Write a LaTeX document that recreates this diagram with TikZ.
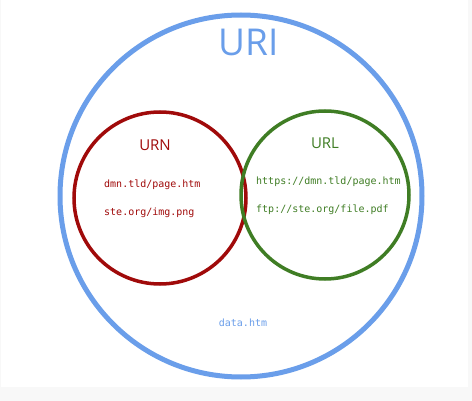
\documentclass[tikz,border=0pt]{standalone}
\usepackage{fontspec}
\setmainfont{Open Sans}
\setmonofont{DejaVu Sans Mono}
\usetikzlibrary{positioning}
\definecolor{uriblue}{HTML}{6A9EEA}
\definecolor{urnred}{HTML}{A00A0A}
\definecolor{urlgreen}{HTML}{3F7D24}
\definecolor{pagegray}{HTML}{F8F8F8}

\begin{document}
\begin{tikzpicture}[
    x=1pt, y=-1pt,
    ring/.style={circle, draw, line width=#1, inner sep=0pt},
    addr/.style={font=\ttfamily\fontsize{10}{12}\selectfont, anchor=west, inner sep=0pt},
    title/.style={font=\fontsize{15}{18}\selectfont, inner sep=0pt}
]
% Hintergrund
\useasboundingbox (0,0) rectangle (472,401);
\fill[pagegray] (0,0) rectangle (472,401);
\fill[white] (1,0) rectangle (468,387);

% Kreise
\node[ring=5pt, draw=uriblue, minimum size=362pt] (uri) at (241,196) {};
\node[ring=3.5pt, draw=urnred, minimum size=172pt] (urn) at (160,198) {};
\node[ring=3.5pt, draw=urlgreen, minimum size=168pt] (url) at (325,195) {};

% Titel
\node[font=\fontsize{37}{40}\selectfont, text=uriblue, inner sep=0pt] (uriT) at (249,42) {URI};
\node[title, text=urnred] (urnT) at (155,145) {URN};
\node[title, text=urlgreen] (urlT) at (325,143) {URL};

% Adressen
\node[addr, text=urnred] (urn1) at (104,185) {dmn.tld/page.htm};
\node[addr, text=urnred] (urn2) at (104,213) {ste.org/img.png};
\node[addr, text=urlgreen] (url1) at (256,182) {https://dmn.tld/page.htm};
\node[addr, text=urlgreen] (url2) at (256,210) {ftp://ste.org/file.pdf};
\node[addr, anchor=center, text=uriblue] (uri1) at (243,323) {data.htm};
\end{tikzpicture}
\end{document}
